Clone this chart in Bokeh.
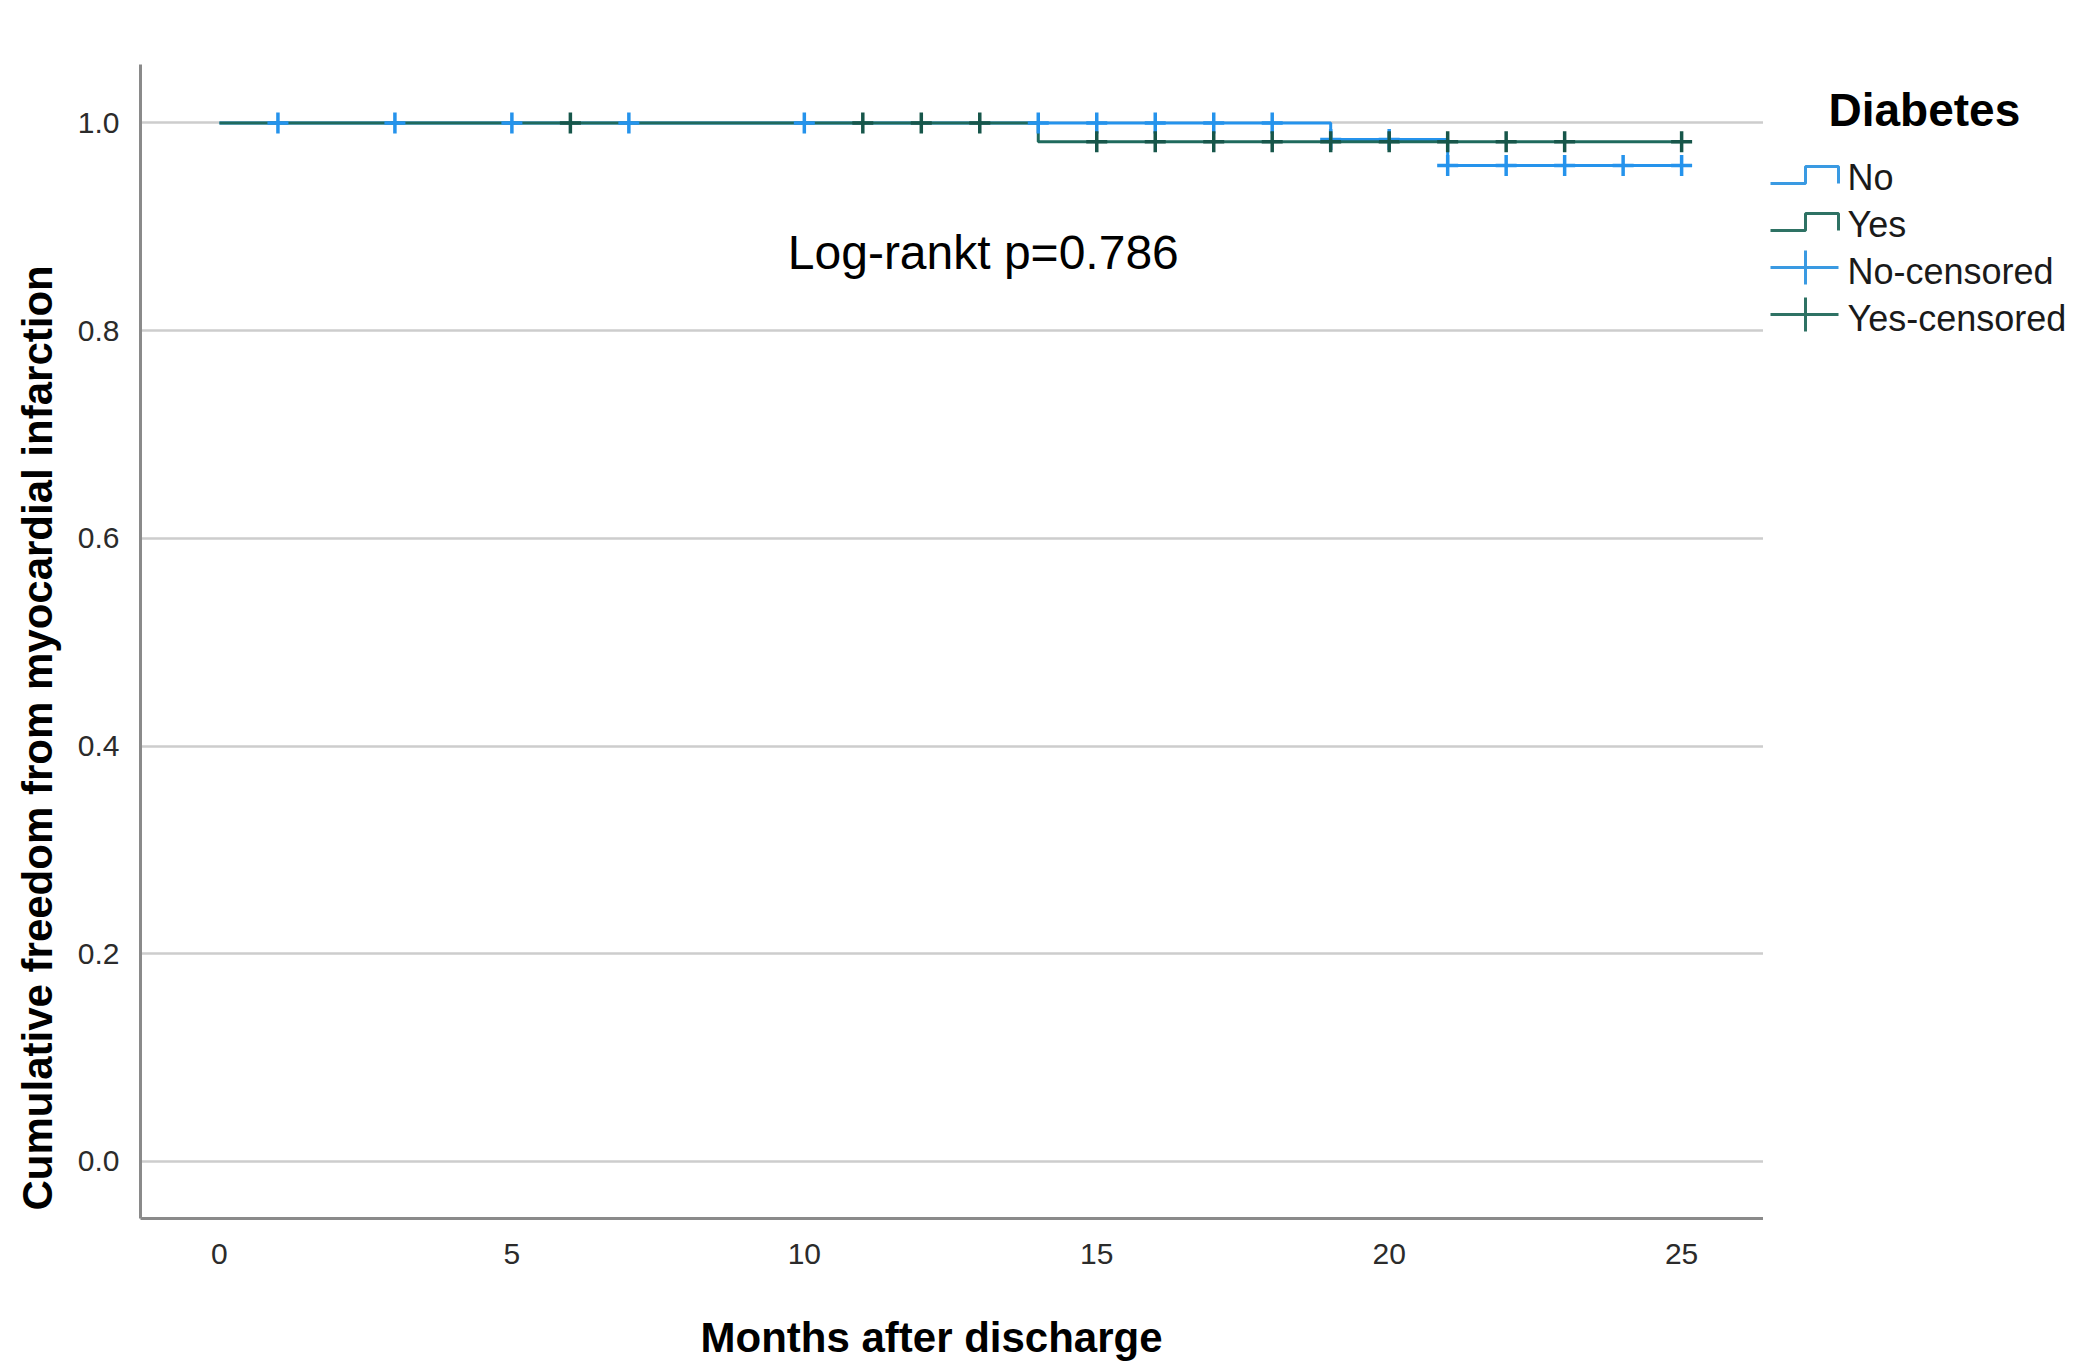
from bokeh.plotting import figure
from bokeh.models import Range1d, FixedTicker, PrintfTickFormatter, Label, Title
from bokeh.layouts import row
from bokeh.embed import file_html
from bokeh.resources import INLINE
from bokeh.core.properties import value

# ---------------- data ----------------
no_time = [0, 19, 21, 25]
no_surv = [1.0, 0.984, 0.959, 0.959]
yes_time = [0, 14, 25]
yes_surv = [1.0, 0.982, 0.982]

no_cens_time = [1, 3, 5, 7, 10, 14, 15, 16, 17, 18, 19, 20, 21, 22, 23, 24, 25]
no_cens_surv = [1.0, 1.0, 1.0, 1.0, 1.0, 1.0, 1.0, 1.0, 1.0, 1.0,
                0.984, 0.984, 0.959, 0.959, 0.959, 0.959, 0.959]
yes_cens_time = [6, 11, 12, 13, 15, 16, 17, 18, 19, 20, 21, 22, 23, 25]
yes_cens_surv = [1.0, 1.0, 1.0, 1.0, 0.982, 0.982, 0.982, 0.982, 0.982,
                 0.982, 0.982, 0.982, 0.982, 0.982]

x_ticks = [0, 5, 10, 15, 20, 25]
y_ticks = [0.0, 0.2, 0.4, 0.6, 0.8, 1.0]
group_labels = ["No", "Yes", "No-censored", "Yes-censored"]
legend_title = "Diabetes"
annotation = "Log-rankt p=0.786"
x_title = "Months after discharge"
y_title = "Cumulative freedom from myocardial infarction"

BLUE = "#2593ec"
TEAL = "#1f6a5d"
FONT = "Liberation Sans"

# ---------------- main plot ----------------
p = figure(width=1763, height=1363, output_backend="svg", toolbar_location=None,
           x_range=Range1d(-1.35, 26.4), y_range=Range1d(-0.0549, 1.0563),
           min_border_left=140, min_border_right=0, min_border_top=64,
           min_border_bottom=145)
p.outline_line_color = None
p.background_fill_color = "white"
p.border_fill_color = "white"

p.xgrid.grid_line_color = None
p.ygrid.grid_line_color = "#cdcdcd"
p.ygrid.grid_line_width = 2.5
p.ygrid.ticker = FixedTicker(ticks=y_ticks)

for ax in (p.xaxis[0], p.yaxis[0]):
    ax.axis_line_color = "#8a8a8a"
    ax.axis_line_width = 3
    ax.major_tick_line_color = None
    ax.minor_tick_line_color = None
    ax.major_label_text_font = FONT
    ax.major_label_text_font_size = "30px"
    ax.major_label_text_color = "#2b2b2b"

p.xaxis.ticker = FixedTicker(ticks=x_ticks)
p.yaxis.ticker = FixedTicker(ticks=y_ticks)
p.yaxis.formatter = PrintfTickFormatter(format="%.1f")
p.xaxis.major_label_standoff = 19
p.yaxis.major_label_standoff = 15

# blank spacer label so that the x title (below) sits at the right depth
p.xaxis.axis_label = " "
p.xaxis.axis_label_text_font_size = "1px"
p.xaxis.axis_label_standoff = 41

p.step(no_time, no_surv, mode="after", line_color=BLUE, line_width=3)
p.step(yes_time, yes_surv, mode="after", line_color=TEAL, line_width=3)
p.scatter(no_cens_time, no_cens_surv, marker="cross", size=21,
          line_color=BLUE, line_width=3.5)
p.scatter(yes_cens_time, yes_cens_surv, marker="cross", size=21,
          line_color="#17564a", line_width=3.5)

p.add_layout(Label(x=13.06, y=0.875, text=annotation, text_align="center",
                   text_baseline="middle", text_font=FONT,
                   text_font_size="48px", text_color="black"))

# axis titles placed off-centre, as in the original
p.add_layout(Title(text=x_title, align="left", offset=560, standoff=0,
                   text_font=FONT, text_font_style="bold",
                   text_font_size="42px", text_color="black"), "below")
p.add_layout(Title(text=y_title, align="left", offset=8, standoff=24,
                   vertical_align="top",
                   text_font=FONT, text_font_style="bold",
                   text_font_size="42px", text_color="black"), "left")

# ---------------- legend panel (page-pixel coordinates) ----------------
lg = figure(width=309, height=1363, output_backend="svg", toolbar_location=None,
            x_range=Range1d(1763, 2072), y_range=Range1d(1218, 64),
            min_border_left=0, min_border_right=0, min_border_top=64,
            min_border_bottom=145)
lg.axis.visible = False
lg.grid.visible = False
lg.outline_line_color = None

lg.text(x=[1828], y=[109], text=[legend_title], text_font=value(FONT),
        text_font_style="bold", text_font_size="46px", text_color="black",
        text_baseline="middle", text_align="left")

row_gap = 47
center0 = 177
for i, lab in enumerate(group_labels):
    lg.text(x=[1847], y=[center0 + i * row_gap], text=[lab], text_font=value(FONT),
            text_font_size="36px", text_color="#1a1a1a",
            text_baseline="middle", text_align="left")

leg_colors = ["#3a9ae2", "#2e7264"]
for i in range(2):
    off = i * row_gap
    lg.line([1770, 1805, 1805, 1838, 1838],
            [183 + off, 183 + off, 166 + off, 166 + off, 183 + off],
            line_color=leg_colors[i], line_width=3)
for i in range(2):
    off = (i + 2) * row_gap
    yc = 173 + off
    lg.segment(x0=[1770], y0=[yc], x1=[1838], y1=[yc],
               line_color=leg_colors[i], line_width=3)
    lg.segment(x0=[1805], y0=[yc - 17], x1=[1805], y1=[yc + 17],
               line_color=leg_colors[i], line_width=3)

layout = row(p, lg)
open("out.html", "w").write(file_html(layout, INLINE))
